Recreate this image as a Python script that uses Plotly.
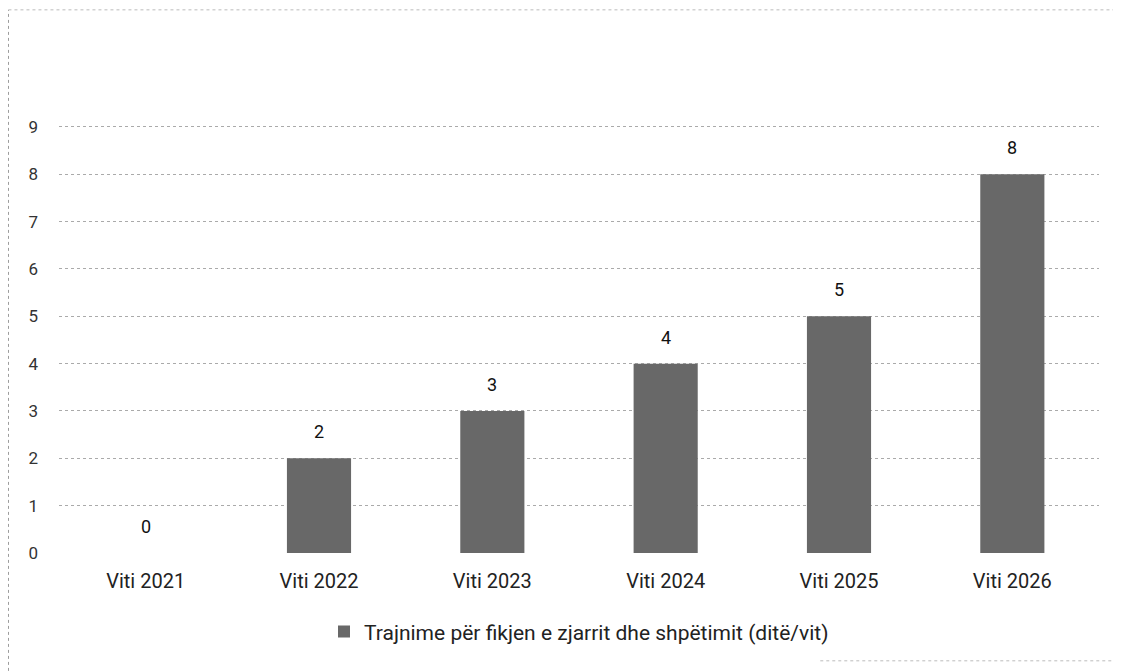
import plotly.graph_objects as go

categories = ["Viti 2021", "Viti 2022", "Viti 2023", "Viti 2024", "Viti 2025", "Viti 2026"]
values = [0, 2, 3, 4, 5, 8]
series_name = "Trajnime për fikjen e zjarrit dhe shpëtimit (ditë/vit)"
y_ticks = [0, 1, 2, 3, 4, 5, 6, 7, 8, 9]

fig = go.Figure()
fig.add_trace(go.Bar(
    x=categories, y=values, name=series_name,
    marker=dict(color="#686868", line=dict(color="#444444", width=0)),
    width=0.37,
    showlegend=True,
))

annotations = [
    dict(x=c, y=v, xref="x", yref="y", text=str(v), showarrow=False,
         yanchor="bottom", yshift=14, font=dict(size=18, color="#111111"))
    for c, v in zip(categories, values)
]

fig.update_layout(
    width=1121, height=671,
    paper_bgcolor="white", plot_bgcolor="white",
    font=dict(family="Roboto, Liberation Sans, sans-serif", color="#222222"),
    margin=dict(l=51, r=30, t=92, b=126),
    showlegend=True,
    legend=dict(orientation="h", x=0.5, xanchor="center", y=-0.174, yanchor="middle",
                itemwidth=30, font=dict(size=21, color="#222222")),
    xaxis=dict(showgrid=False, showline=False, ticks="", tickfont=dict(size=20, color="#222222"),
               ticklabelstandoff=14),
    yaxis=dict(range=[0, 9.57], tickvals=y_ticks, showgrid=True, gridcolor="#aaaaaa",
               griddash="dot", gridwidth=1, zeroline=False, showline=False,
               tickfont=dict(size=17, color="#333333"), ticklabelstandoff=20),
    annotations=annotations,
    shapes=[
        dict(type="line", xref="paper", yref="paper", x0=-0.0486, x1=-0.0486, y0=-0.3, y1=1.199,
             line=dict(color="#999999", width=1, dash="dot")),
        dict(type="line", xref="paper", yref="paper", x0=-0.0486, x1=1.04, y0=1.199, y1=1.199,
             line=dict(color="#bbbbbb", width=1, dash="dot")),
        dict(type="line", xref="paper", yref="paper", x0=0.732, x1=1.04, y0=-0.238, y1=-0.238,
             line=dict(color="#bbbbbb", width=1, dash="dot")),
    ],
)

fig.write_html("out.html")
